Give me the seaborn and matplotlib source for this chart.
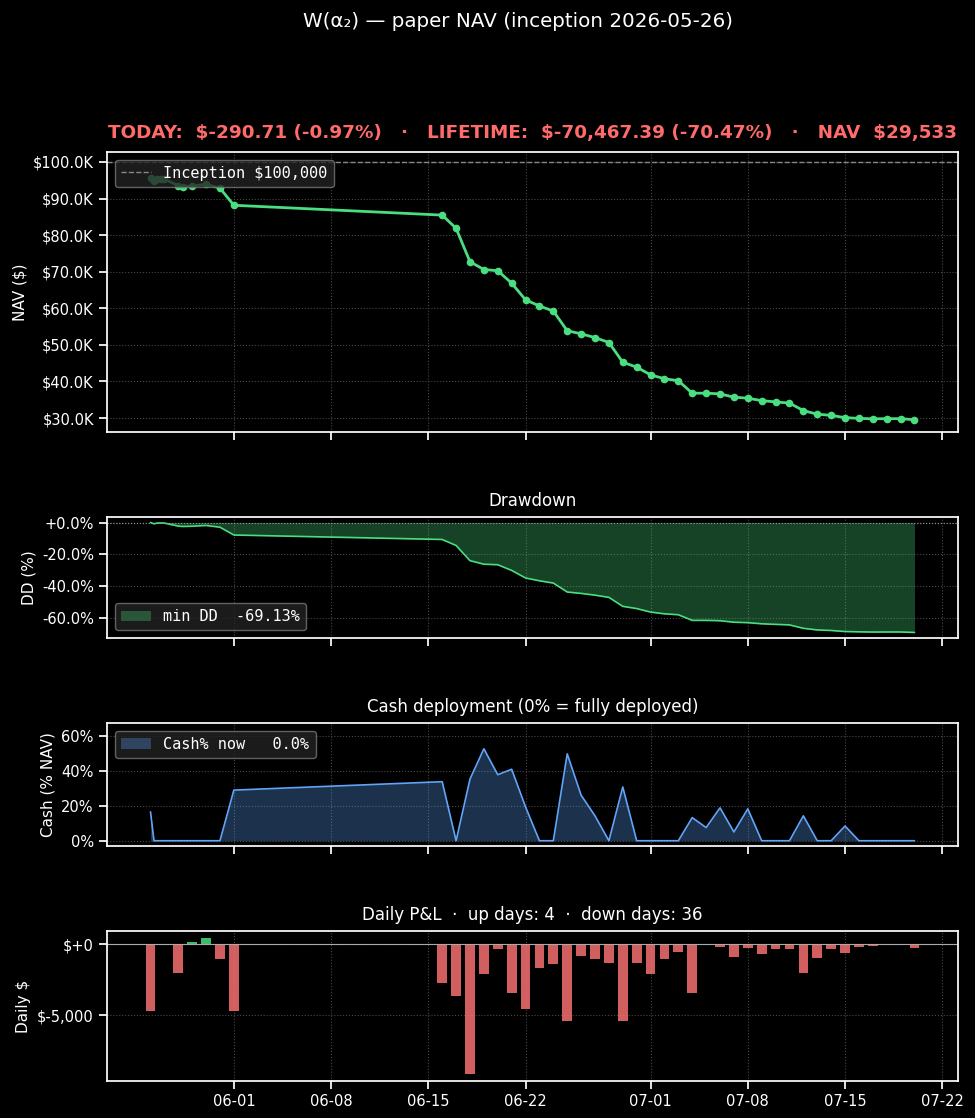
import matplotlib
matplotlib.use("Agg")
import matplotlib.pyplot as plt
import matplotlib.dates as mdates
from matplotlib.ticker import FuncFormatter, MultipleLocator
import seaborn as sns
import pandas as pd

INCEPTION = 100000
GREEN = "#4ade80"
BLUE = "#60a5fa"
RED = "#f87171"

# NAV snapshots (first days have a few intraday snapshots)
nav_times = [
    "2026-05-26 00:00", "2026-05-26 06:00", "2026-05-26 12:00", "2026-05-26 18:00",
    "2026-05-27 00:00", "2026-05-28 00:00", "2026-05-28 08:00", "2026-05-29", "2026-05-30",
    "2026-05-31", "2026-06-01",
    "2026-06-16", "2026-06-17", "2026-06-18", "2026-06-19", "2026-06-20", "2026-06-21",
    "2026-06-22", "2026-06-23", "2026-06-24", "2026-06-25", "2026-06-26", "2026-06-27",
    "2026-06-28", "2026-06-29", "2026-06-30", "2026-07-01", "2026-07-02", "2026-07-03",
    "2026-07-04", "2026-07-05", "2026-07-06", "2026-07-07", "2026-07-08", "2026-07-09",
    "2026-07-10", "2026-07-11", "2026-07-12", "2026-07-13", "2026-07-14", "2026-07-15",
    "2026-07-16", "2026-07-17", "2026-07-18", "2026-07-19", "2026-07-20",
]
nav_values = [
    95670, 94900, 95350, 95400,
    95320, 93500, 93272, 93439, 93891,
    92843, 88153,
    85463, 81844, 72714, 70595, 70262, 66857,
    62309, 60619, 59238, 53858, 53025, 51977,
    50644, 45244, 43911, 41792, 40744, 40196,
    36791, 36791, 36601, 35696, 35434, 34744,
    34411, 34078, 32030, 31054, 30721, 30102,
    29912, 29784, 29823.32, 29823.32, 29532.61,
]
cash_pct = [
    16.5, 0, 0, 0,
    0, 0, 0, 0, 0,
    0, 28.9,
    33.7, 0, 35.2, 52.5, 37.7, 40.8,
    19.3, 0, 0, 49.6, 26.0, 14.2,
    0, 30.7, 0, 0, 0, 0,
    13.2, 7.5, 18.8, 5.0, 18.2, 0,
    0, 0, 14.2, 0, 0, 8.4,
    0, 0, 0, 0, 0,
]

pnl_days = [
    "2026-05-26", "2026-05-27", "2026-05-28", "2026-05-29", "2026-05-30", "2026-05-31",
    "2026-06-01", "2026-06-16", "2026-06-17", "2026-06-18", "2026-06-19", "2026-06-20",
    "2026-06-21", "2026-06-22", "2026-06-23", "2026-06-24", "2026-06-25", "2026-06-26",
    "2026-06-27", "2026-06-28", "2026-06-29", "2026-06-30", "2026-07-01", "2026-07-02",
    "2026-07-03", "2026-07-04", "2026-07-05", "2026-07-06", "2026-07-07", "2026-07-08",
    "2026-07-09", "2026-07-10", "2026-07-11", "2026-07-12", "2026-07-13", "2026-07-14",
    "2026-07-15", "2026-07-16", "2026-07-17", "2026-07-18", "2026-07-19", "2026-07-20",
]
pnl_values = [
    -4690, 10, -2048, 167, 452, -1048,
    -4690, -2690, -3619, -9130, -2119, -333,
    -3405, -4548, -1690, -1381, -5380, -833,
    -1048, -1333, -5400, -1333, -2119, -1048,
    -548, -3405, 0, -190, -905, -262,
    -690, -333, -333, -2048, -976, -333,
    -619, -190, -128, 40, 0, -290.71,
]

df = pd.DataFrame({"t": pd.to_datetime(nav_times, format="mixed"),
                   "nav": nav_values, "cash": cash_pct})
df["dd"] = (df["nav"] / df["nav"].cummax() - 1) * 100
pnl = pd.DataFrame({"day": pd.to_datetime(pnl_days), "pnl": pnl_values})

today = pnl["pnl"].iloc[-1]
prev_nav = df["nav"].iloc[-2]
last_nav = df["nav"].iloc[-1]
life = last_nav - INCEPTION
up_days = int((pnl["pnl"] > 0).sum())
down_days = int((pnl["pnl"] < 0).sum())

sns.set_theme(style="ticks", context="notebook", rc={
    "figure.facecolor": "black", "axes.facecolor": "black", "savefig.facecolor": "black",
    "axes.edgecolor": "white", "axes.labelcolor": "white", "text.color": "white",
    "xtick.color": "white", "ytick.color": "white",
    "xtick.labelsize": 10.5, "ytick.labelsize": 10.5, "axes.labelsize": 11,
    "axes.titlesize": 12,
    "axes.grid": True, "grid.color": "#484848", "grid.linestyle": ":", "grid.linewidth": 0.8,
    "legend.facecolor": "#222222", "legend.edgecolor": "#777777",
})
plt.rcParams["font.family"] = ["DejaVu Sans"]

fig, (ax1, ax2, ax3, ax4) = plt.subplots(
    4, 1, figsize=(9.75, 11.18), dpi=100, sharex=True,
    gridspec_kw={"height_ratios": [280, 121, 123, 150]})
fig.subplots_adjust(left=0.1097, right=0.9826, top=0.864, bottom=0.0331, hspace=0.505)

mono = {"family": "DejaVu Sans Mono", "size": 11}

# NAV
sns.lineplot(data=df, x="t", y="nav", ax=ax1, color=GREEN, linewidth=2,
             marker="o", markersize=5.5, markeredgewidth=0)
ax1.axhline(INCEPTION, color="#888888", ls="--", lw=1, label=f"Inception ${INCEPTION:,}")
ax1.set_ylim(min(nav_values) * 0.887, INCEPTION * 1.027)
ax1.yaxis.set_major_formatter(FuncFormatter(lambda v, _: f"${v/1000:.1f}K"))
ax1.set_ylabel("NAV ($)")
ax1.set_xlabel("")
ax1.legend(loc="upper left", prop=mono, framealpha=0.8)
ax1.set_title(f"TODAY:  ${today:,.2f} ({today/prev_nav*100:.2f}%)   ·   "
              f"LIFETIME:  ${life:,.2f} ({life/INCEPTION*100:.2f}%)   ·   NAV  ${last_nav:,.0f}",
              color="#ff6b6b", fontweight="bold", fontsize=13.2, pad=10)

# Drawdown
sns.lineplot(data=df, x="t", y="dd", ax=ax2, color=GREEN, linewidth=1.2)
ax2.fill_between(df["t"], df["dd"], 0, color=GREEN, alpha=0.3, linewidth=0,
                 label=f"min DD  {df['dd'].min():.2f}%")
ax2.axhline(0, color="#999999", lw=0.8, ls=":")
ax2.yaxis.set_major_locator(MultipleLocator(20))
ax2.yaxis.set_major_formatter(FuncFormatter(lambda v, _: f"{v:+.1f}%"))
ax2.set_ylabel("DD (%)")
ax2.set_xlabel("")
ax2.set_title("Drawdown", pad=8)
ax2.legend(loc="lower left", prop=mono, framealpha=0.8)

# Cash
sns.lineplot(data=df, x="t", y="cash", ax=ax3, color=BLUE, linewidth=1.2)
ax3.fill_between(df["t"], df["cash"], 0, color=BLUE, alpha=0.3, linewidth=0,
                 label=f"Cash% now   {df['cash'].iloc[-1]:.1f}%")
ax3.set_ylim(-3, max(cash_pct) * 1.28)
ax3.yaxis.set_major_formatter(FuncFormatter(lambda v, _: f"{v:.0f}%"))
ax3.yaxis.set_major_locator(MultipleLocator(20))
ax3.set_ylabel("Cash (% NAV)")
ax3.set_xlabel("")
ax3.set_title("Cash deployment (0% = fully deployed)", pad=8)
ax3.legend(loc="upper left", prop=mono, framealpha=0.8)

# Daily P&L
colors = [GREEN if v > 0 else RED for v in pnl["pnl"]]
ax4.bar(pnl["day"], pnl["pnl"], width=0.7, color=colors, alpha=0.85,
        edgecolor="none", linewidth=0)
ax4.axhline(0, color="#aaaaaa", lw=0.8)
ax4.yaxis.set_major_locator(MultipleLocator(5000))
ax4.yaxis.set_major_formatter(FuncFormatter(lambda v, _: f"${v:+,.0f}"))
ax4.set_ylabel("Daily $")
ax4.set_title(f"Daily P&L  ·  up days: {up_days}  ·  down days: {down_days}", pad=8)

ax4.xaxis.set_major_locator(mdates.DayLocator(bymonthday=[1, 8, 15, 22]))
ax4.xaxis.set_major_formatter(mdates.DateFormatter("%m-%d"))

for ax in (ax1, ax2, ax3, ax4):
    for s in ax.spines.values():
        s.set_visible(True)
        s.set_color("white")
    ax.grid(True, color="#484848", ls=":", lw=0.8)

fig.suptitle("W(α₂) — paper NAV (inception 2026-05-26)", x=0.531, y=0.989, fontsize=14.3)

fig.savefig("out.png", dpi=100)
